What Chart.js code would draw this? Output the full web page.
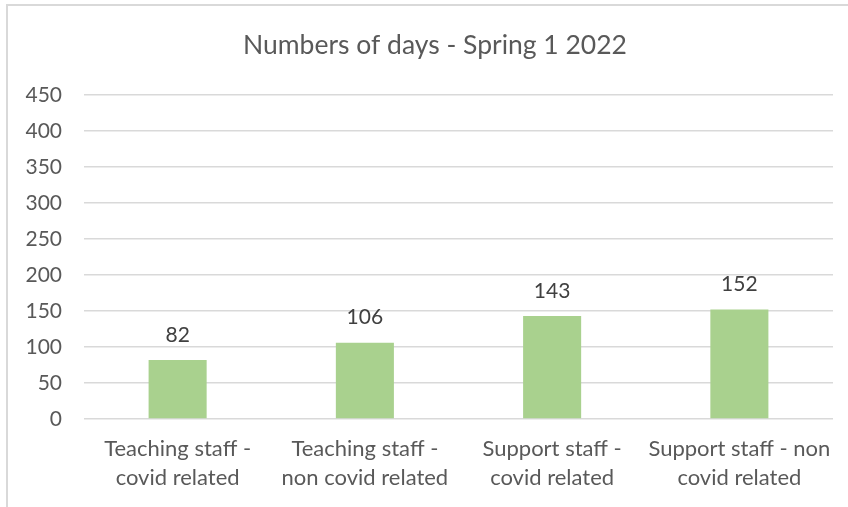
<!DOCTYPE html>
<html>
<head>
<meta charset="utf-8">
<script src="https://cdn.jsdelivr.net/npm/chart.js@4.4.0/dist/chart.umd.min.js"></script>
<style>
html, body { margin: 0; padding: 0; background: #fff; }
</style>
</head>
<body>
<canvas id="myChart" width="848" height="507"></canvas>
<script>
// data
var categories = [
    ['Teaching staff -', 'covid related'],
    ['Teaching staff -', 'non covid related'],
    ['Support staff -', 'covid related'],
    ['Support staff - non', 'covid related']
];
var days = [82, 106, 143, 152];
var yMin = 0, yMax = 450, yStep = 50;

var fontFamily = 'Lato, "Open Sans", sans-serif';

// light frame round the chart, like the Excel chart box
var chartBorder = {
    id: 'chartBorder',
    beforeDraw: function(chart) {
        var c = chart.ctx;
        c.save();
        c.strokeStyle = '#d9d9d9';
        c.lineWidth = 2;
        c.strokeRect(7, 5, 900, 600);
        c.restore();
    }
};

// value labels above each bar
var barValues = {
    id: 'barValues',
    afterDatasetsDraw: function(chart) {
        var c = chart.ctx;
        var meta = chart.getDatasetMeta(0);
        c.save();
        c.font = '21px ' + fontFamily;
        c.fillStyle = '#404040';
        c.textAlign = 'center';
        c.textBaseline = 'middle';
        meta.data.forEach(function(bar, i) {
            c.fillText(chart.data.datasets[0].data[i], bar.x, bar.y - 25);
        });
        c.restore();
    }
};

var ctx = document.getElementById('myChart').getContext('2d');
var chart = new Chart(ctx, {
    type: 'bar',
    data: {
        labels: categories,
        datasets: [{
            label: 'Numbers of days',
            backgroundColor: '#a9d18e',
            borderWidth: 0,
            data: days,
            barPercentage: 0.31,
            categoryPercentage: 1
        }]
    },
    options: {
        responsive: false,
        animation: false,
        devicePixelRatio: 1,
        layout: {
            padding: { left: 22, right: 0, top: 0, bottom: 0 }
        },
        plugins: {
            legend: { display: false },
            tooltip: { enabled: false },
            title: {
                display: true,
                text: 'Numbers of days - Spring 1 2022',
                color: '#595959',
                font: { family: fontFamily, size: 26.5, weight: 'normal', lineHeight: 1.2 },
                padding: { top: 30, bottom: 33 }
            }
        },
        scales: {
            x: {
                grid: { display: false, drawTicks: false },
                border: { display: false },
                ticks: {
                    color: '#595959',
                    padding: 15.5,
                    maxRotation: 0,
                    autoSkip: false,
                    font: { family: fontFamily, size: 22, lineHeight: 1.32 }
                },
                afterFit: function(scale) { scale.height = 88; }
            },
            y: {
                min: yMin,
                max: yMax,
                grid: { color: '#d9d9d9', lineWidth: 1.5, drawTicks: false },
                border: { display: false },
                ticks: {
                    stepSize: yStep,
                    color: '#595959',
                    padding: 22,
                    font: { family: fontFamily, size: 21 }
                },
                afterFit: function(scale) { scale.width = 62; }
            },
            // empty right-hand strip so the plot stops where the reference does
            yRight: {
                position: 'right',
                grid: { display: false, drawTicks: false },
                border: { display: false },
                ticks: { display: false },
                afterFit: function(scale) { scale.width = 15; }
            }
        }
    },
    plugins: [chartBorder, barValues]
});
</script>
</body>
</html>
